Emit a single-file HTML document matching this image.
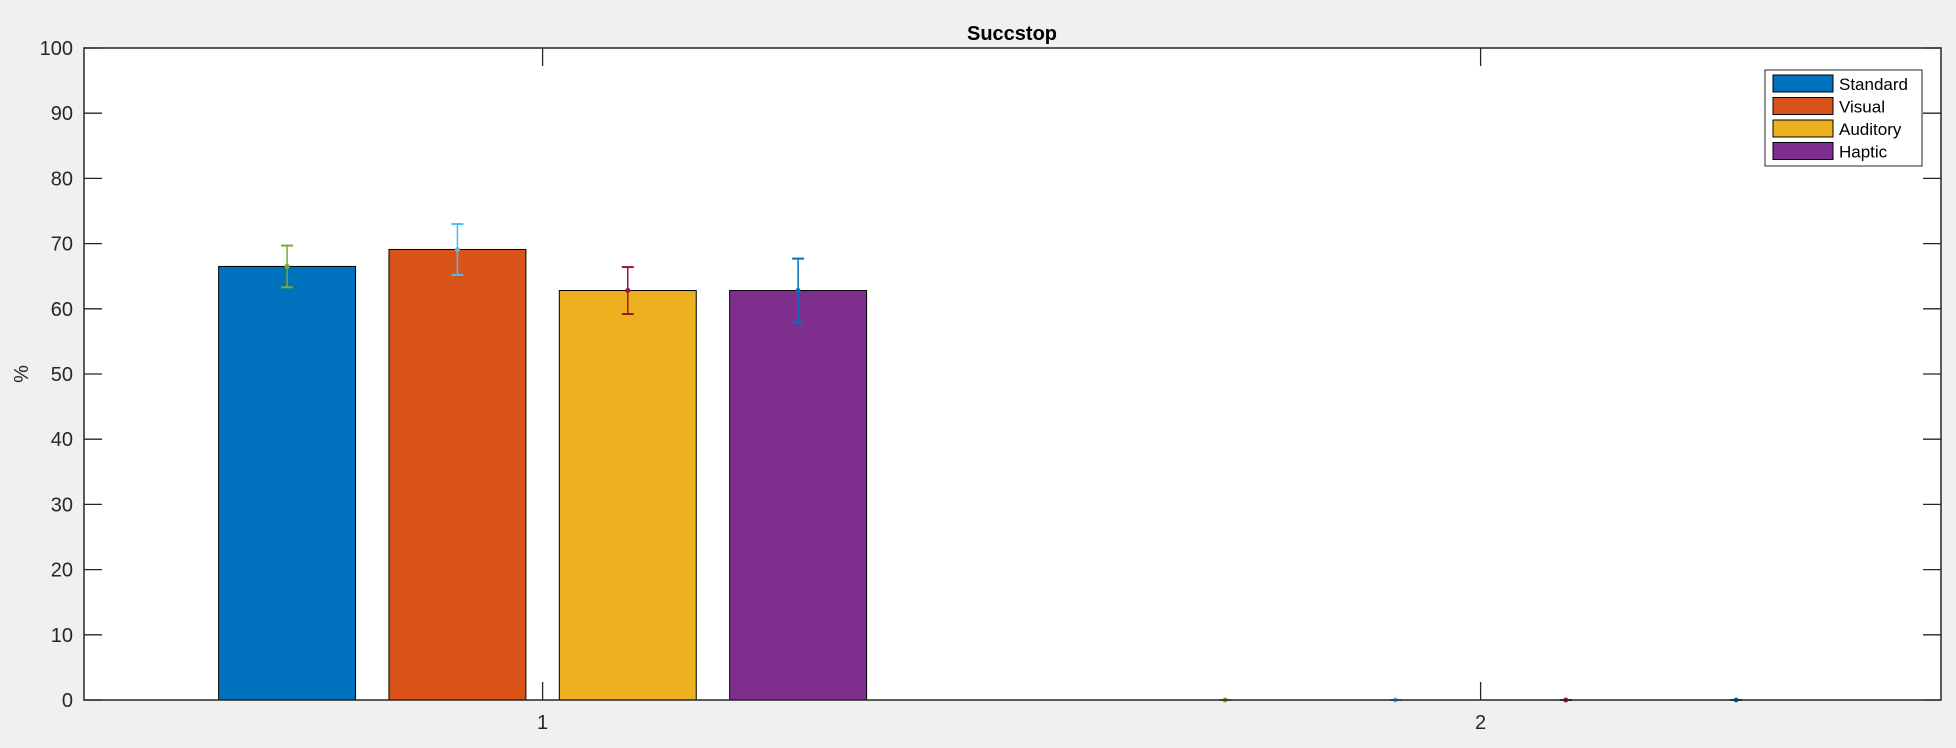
<!DOCTYPE html>
<html><head><meta charset="utf-8"><style>
body{margin:0;background:#f0f0f0;}
svg{display:block;font-family:"Liberation Sans",sans-serif;}
</style></head><body>
<svg id="c" width="1956" height="748">
<rect x="0" y="0" width="1956" height="748" fill="#f0f0f0"/>
<rect x="84" y="48" width="1857" height="652" fill="#fff"/>
<text x="1012" y="40" text-anchor="middle" font-weight="bold" font-size="20">Succstop</text>
<text transform="translate(28,374) rotate(-90)" text-anchor="middle" font-size="20" fill="#262626">%</text>
<g id="g"></g>
</svg>
<script>
const categories=[1,2];
const seriesNames=["Standard","Visual","Auditory","Haptic"];
const standardVals=[66.5,0];
const visualVals=[69.1,0];
const auditoryVals=[62.8,0];
const hapticVals=[62.8,0];
const standardErr=[3.2,0];
const visualErr=[3.9,0];
const auditoryErr=[3.6,0];
const hapticErr=[4.9,0];
const yTicks=[0,10,20,30,40,50,60,70,80,90,100];
const xTickLabels=["1","2"];
const colors=["#0072bd","#d95319","#edb120","#7e2f8e"];
const errColors=["#77ac30","#4dbeee","#a2142f","#0072bd"];
const vals=[standardVals,visualVals,auditoryVals,hapticVals];
const errs=[standardErr,visualErr,auditoryErr,hapticErr];
const L=84,R=1941,T=48,B=700;
const xs=v=>542.6+(v-1)*938;
const ys=v=>B-(v/100)*(B-T);
const NS="http://www.w3.org/2000/svg";
const g=document.getElementById('g');
function mk(t,a){const e=document.createElementNS(NS,t);for(const k in a)e.setAttribute(k,a[k]);g.appendChild(e);return e;}
const barOff=[-0.2724,-0.0908,0.0908,0.2724];
const bw=0.146;
for(let s=0;s<4;s++){
 for(let c=0;c<categories.length;c++){
  const v=vals[s][c];
  const cx=categories[c]+barOff[s];
  if(v>0){
   const r=mk('rect',{x:xs(cx-bw/2),y:ys(v),width:bw*938,height:ys(0)-ys(v),fill:colors[s],stroke:'#000','stroke-width':1});
   
   
  }
  const ex=xs(cx);
  const e=errs[s][c];
  const eg=mk('g',{stroke:errColors[s],'stroke-width':1.5,fill:errColors[s]});
  
  
  const add=(t,a)=>{const el=document.createElementNS(NS,t);for(const k in a)el.setAttribute(k,a[k]);eg.appendChild(el);};
  add('line',{x1:ex,x2:ex,y1:ys(v-e),y2:ys(v+e)});
  add('line',{x1:ex-6,x2:ex+6,y1:ys(v-e),y2:ys(v-e),'stroke-width':2});
  add('line',{x1:ex-6,x2:ex+6,y1:ys(v+e),y2:ys(v+e),'stroke-width':2});
  add('circle',{cx:ex,cy:ys(v),r:2.5,stroke:'none'});
 }
}
const ax=mk('rect',{x:L,y:T,width:R-L,height:B-T,fill:'none',stroke:'#262626','stroke-width':1.5});


yTicks.forEach(t=>{
 const y=ys(t);
 mk('line',{x1:L,x2:L+18,y1:y,y2:y,stroke:'#262626','stroke-width':1.3});
 mk('line',{x1:R,x2:R-18,y1:y,y2:y,stroke:'#262626','stroke-width':1.3});
 const tx=mk('text',{x:L-11,y:y+7,'text-anchor':'end','font-size':20,fill:'#262626'});
 tx.textContent=t;
 
 
});
categories.forEach((c,i)=>{
 const x=xs(c);
 mk('line',{x1:x,x2:x,y1:B,y2:B-18,stroke:'#262626','stroke-width':1.3});
 mk('line',{x1:x,x2:x,y1:T,y2:T+18,stroke:'#262626','stroke-width':1.3});
 const tx=mk('text',{x:x,y:B+29,'text-anchor':'middle','font-size':20,fill:'#262626'});
 tx.textContent=xTickLabels[i];
 
 
});
const lg=mk('rect',{x:1765,y:70,width:157,height:96,fill:'#fff',stroke:'#262626','stroke-width':1});


seriesNames.forEach((n,i)=>{
 const y=75+i*22.5;
 const sw=mk('rect',{x:1773,y:y,width:60,height:17,fill:colors[i],stroke:'#000','stroke-width':1});
 
 
 const tx=mk('text',{x:1839,y:y+15,'font-size':17,fill:'#000'});
 tx.textContent=n;
 
 
});
</script>
</body></html>
